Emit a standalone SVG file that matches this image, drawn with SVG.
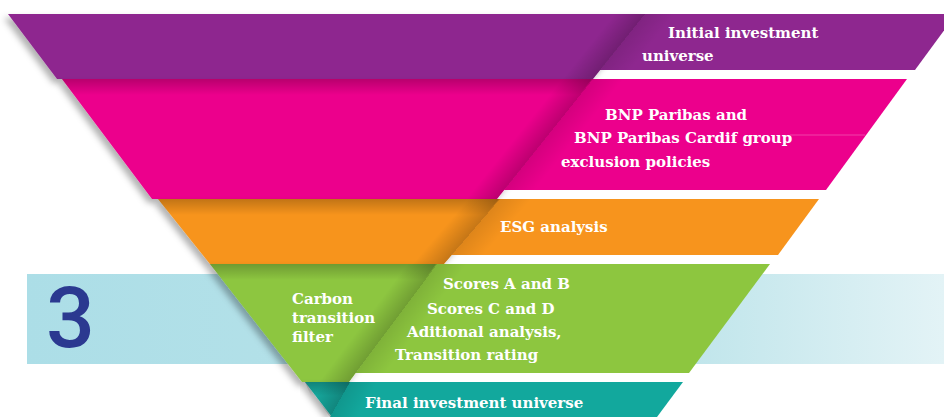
<svg xmlns="http://www.w3.org/2000/svg" width="944" height="417" viewBox="0 0 944 417">
  <style>
    .lbl { font-family: "DejaVu Serif", "Liberation Serif", serif; font-size: 15px; font-weight: bold; fill: #FFFFFF; }
    .num { font-family: Roboto, "Liberation Sans", sans-serif; font-size: 86px; font-weight: 500; fill: #2B3990; }
    .purple { fill: #8E278F; }
    .pink { fill: #EC008C; }
    .orange { fill: #F7941D; }
    .green { fill: #8DC63F; }
    .teal { fill: #12A89D; }
    .fs0 { stop-color: #000; stop-opacity: 0; }
    .fsL { stop-color: #000; stop-opacity: 0.2; }
    .fsR { stop-color: #000; stop-opacity: 0.1; }
  </style>
  <defs>
    <filter id="drop" x="-10%" y="-20%" width="120%" height="150%">
      <feDropShadow dx="-4" dy="4" stdDeviation="3" flood-color="#000" flood-opacity="0.3"/>
    </filter>
    <linearGradient id="topShade" x1="0" y1="0" x2="0" y2="1">
      <stop offset="0" stop-color="#000" stop-opacity="0.22"/>
      <stop offset="1" stop-color="#000" stop-opacity="0"/>
    </linearGradient>
    <linearGradient id="bandBg" x1="0" y1="0" x2="1" y2="0">
      <stop offset="0" stop-color="#ACDEE7"/>
      <stop offset="0.7" stop-color="#BDE4EA"/>
      <stop offset="1" stop-color="#E3F3F6"/>
    </linearGradient>
    <linearGradient id="fold1" gradientUnits="userSpaceOnUse" x1="603.9" y1="27" x2="641.3" y2="57">
      <stop offset="0" class="fs0"/><stop offset="0.5" class="fsL"/><stop offset="0.5" class="fsR"/><stop offset="1" class="fs0"/>
    </linearGradient>
    <linearGradient id="fold2" gradientUnits="userSpaceOnUse" x1="526.3" y1="124" x2="563.7" y2="154">
      <stop offset="0" class="fs0"/><stop offset="0.5" class="fsL"/><stop offset="0.5" class="fsR"/><stop offset="1" class="fs0"/>
    </linearGradient>
    <linearGradient id="fold3" gradientUnits="userSpaceOnUse" x1="453.8" y1="215.8" x2="490.2" y2="247.2">
      <stop offset="0" class="fs0"/><stop offset="0.5" class="fsL"/><stop offset="0.5" class="fsR"/><stop offset="1" class="fs0"/>
    </linearGradient>
    <linearGradient id="fold4" gradientUnits="userSpaceOnUse" x1="373.8" y1="308.6" x2="412.2" y2="337.4">
      <stop offset="0" class="fs0"/><stop offset="0.5" class="fsL"/><stop offset="0.5" class="fsR"/><stop offset="1" class="fs0"/>
    </linearGradient>
    <linearGradient id="fold5" gradientUnits="userSpaceOnUse" x1="319.2" y1="387.6" x2="360.8" y2="411.4">
      <stop offset="0" class="fs0"/><stop offset="0.5" class="fsL"/><stop offset="0.5" class="fsR"/><stop offset="1" class="fs0"/>
    </linearGradient>
    <clipPath id="c1"><polygon points="8,14 956,14 915,70 600.2,70 593,79 57,79"/></clipPath>
    <clipPath id="c2"><polygon points="62,79 907,79 826,190 504.2,190 497,199 152,199"/></clipPath>
    <clipPath id="c3"><polygon points="158,199 819,199 778,255 451.7,255 444,264 210,264"/></clipPath>
    <clipPath id="c4"><polygon points="210,264 770,264 689,373 355.7,373 349,382 302,382"/></clipPath>
    <clipPath id="c5"><polygon points="305,382 683,382 657,417 330,417"/></clipPath>
  </defs>

  <rect width="944" height="417" fill="#FFFFFF"/>

  <!-- background band for step 3 -->
  <g id="step-band">
    <rect x="27" y="274" width="917" height="90" fill="url(#bandBg)"/>
    <text class="num" x="46" y="347">3</text>
  </g>

  <!-- layer 1 -->
  <g id="initial-universe">
    <polygon class="purple" points="8,14 645,14 593,79 57,79" filter="url(#drop)"/>
    <polygon class="purple" points="644,14 956,14 915,70 599.6,70"/>
    <polygon points="580,14 690,14 638,79 528,79" fill="url(#fold1)" clip-path="url(#c1)"/>
    <text class="lbl" x="668" y="38">Initial investment</text>
    <text class="lbl" x="642" y="61">universe</text>
  </g>

  <!-- layer 2 -->
  <g id="exclusion-policies">
    <polygon class="pink" points="62,79 593,79 497,199 152,199" filter="url(#drop)"/>
    <polygon points="62,79 593,79 580,95 74,95" fill="url(#topShade)"/>
    <polygon class="pink" points="592,79 907,79 826,190 503.6,190"/>
    <polygon points="528,79 638,79 542,199 432,199" fill="url(#fold2)" clip-path="url(#c2)"/>
    <line x1="790" y1="135" x2="865" y2="135" stroke="#FFFFFF" stroke-opacity="0.25" stroke-width="1"/>
    <text class="lbl" x="605" y="120">BNP Paribas and</text>
    <text class="lbl" x="574" y="143">BNP Paribas Cardif group</text>
    <text class="lbl" x="561" y="167">exclusion policies</text>
  </g>

  <!-- layer 3 -->
  <g id="esg-analysis">
    <polygon class="orange" points="158,199 500,199 444,264 210,264" filter="url(#drop)"/>
    <polygon points="158,199 500,199 486,215 170,215" fill="url(#topShade)"/>
    <polygon class="orange" points="499,199 819,199 778,255 451.2,255"/>
    <polygon points="435,199 545,199 489,264 379,264" fill="url(#fold3)" clip-path="url(#c3)"/>
    <text class="lbl" x="500" y="232">ESG analysis</text>
  </g>

  <!-- layer 4 -->
  <g id="carbon-filter">
    <polygon class="green" points="210,264 437,264 349,382 302,382" filter="url(#drop)"/>
    <polygon points="210,264 437,264 425,280 222,280" fill="url(#topShade)"/>
    <polygon class="green" points="436,264 770,264 689,373 355.2,373"/>
    <polygon points="372,264 482,264 394,382 284,382" fill="url(#fold4)" clip-path="url(#c4)"/>
    <text class="lbl" x="292" y="304">Carbon</text>
    <text class="lbl" x="292" y="323">transition</text>
    <text class="lbl" x="292" y="342">filter</text>
    <text class="lbl" x="443" y="289">Scores A and B</text>
    <text class="lbl" x="427" y="314">Scores C and D</text>
    <text class="lbl" x="407" y="337">Aditional analysis,</text>
    <text class="lbl" x="395" y="360">Transition rating</text>
  </g>

  <!-- layer 5 -->
  <g id="final-universe">
    <polygon class="teal" points="305,382 351,382 332,417" filter="url(#drop)"/>
    <polygon points="305,382 351,382 344,396 311,396" fill="url(#topShade)"/>
    <polygon class="teal" points="350,382 683,382 657,417 330,417"/>
    <polygon points="295,382 400,382 382,417 277,417" fill="url(#fold5)" clip-path="url(#c5)"/>
    <text class="lbl" x="365" y="408">Final investment universe</text>
  </g>

  <g id="connectors"/>
</svg>
